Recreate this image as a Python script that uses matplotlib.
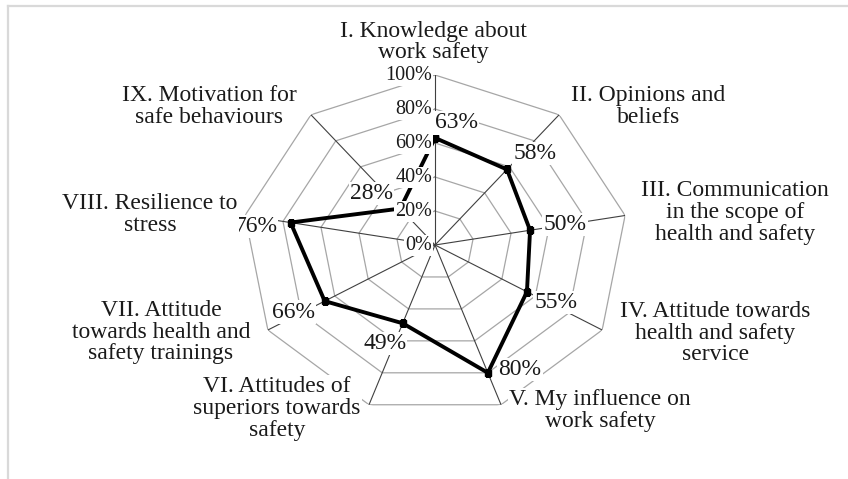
import numpy as np
import matplotlib.pyplot as plt
from matplotlib.lines import Line2D

categories = ["I. Knowledge about\nwork safety",
              "II. Opinions and\nbeliefs",
              "III. Communication\nin the scope of\nhealth and safety",
              "IV. Attitude towards\nhealth and safety\nservice",
              "V. My influence on\nwork safety",
              "VI. Attitudes of\nsuperiors towards\nsafety",
              "VII. Attitude\ntowards health and\nsafety trainings",
              "VIII. Resilience to\nstress",
              "IX. Motivation for\nsafe behaviours"]
values = [63, 58, 50, 55, 80, 49, 66, 76, 28]
ticks = [0, 20, 40, 60, 80, 100]

# label offsets in pixels (x right, y up)
cat_off = [(-2, 33), (89, 8), (110, 3), (113, -3), (99, -6),
           (-92, -4), (-107, -2), (-95, 1), (-102, 8)]
val_off = [(21, 15), (28, 16), (35, 6), (29, -11), (32, 3),
           (-18, -20), (-31, -11), (-35, -4), (-29, 15)]

plt.rcParams['font.family'] = ['Liberation Serif', 'DejaVu Serif']
txt = '#1a1a1a'
box = dict(boxstyle='square,pad=0.05', fc='white', ec='none')

fig = plt.figure(figsize=(8.48, 4.79), dpi=100)
ax = fig.add_axes([0.2854, 0.1336, 0.4552, 0.7098], projection='polar')
ax.set_aspect('auto')
ax.set_theta_zero_location('N')
ax.set_theta_direction(-1)
ax.set_ylim(0, 100)
ax.grid(False)
ax.set_xticks([])
ax.set_yticks([])
ax.spines['polar'].set_visible(False)
ax.patch.set_visible(False)

n = len(values)
theta = np.arange(n) * 2 * np.pi / n
closed = np.append(theta, theta[0])

for t in ticks[1:]:
    ax.plot(closed, [t] * (n + 1), color='#a6a6a6', lw=0.9, zorder=1)
for th in theta:
    ax.plot([th, th], [0, 100], color='#404040', lw=0.8, zorder=1)

ax.plot(closed, values + values[:1], color='black', lw=2.8,
        marker='s', ms=5, zorder=3)

for t in ticks:
    ax.annotate(f"{t}%", xy=(0, t), xytext=(-3, 0), textcoords='offset pixels',
                ha='right', va='center', fontsize=14.5, color=txt,
                bbox=box, zorder=5)

for th, v, off in zip(theta, values, val_off):
    ax.annotate(f"{v}%", xy=(th, v), xytext=off, textcoords='offset pixels',
                ha='center', va='center', fontsize=17, color=txt,
                bbox=box, zorder=5)

for th, c, off in zip(theta, categories, cat_off):
    ax.annotate(c, xy=(th, 100), xytext=off, textcoords='offset pixels',
                ha='center', va='center', fontsize=17, color=txt,
                linespacing=1.05, multialignment='center',
                bbox=box, zorder=5, annotation_clip=False)

# light border of the chart area
fx = 8 / 848
fy = 1 - 6 / 479
fig.add_artist(Line2D([fx, fx], [0, fy], transform=fig.transFigure,
                      color='#d9d9d9', lw=1.6))
fig.add_artist(Line2D([fx, 1], [fy, fy], transform=fig.transFigure,
                      color='#d9d9d9', lw=1.6))

fig.savefig('out.png', dpi=100)
